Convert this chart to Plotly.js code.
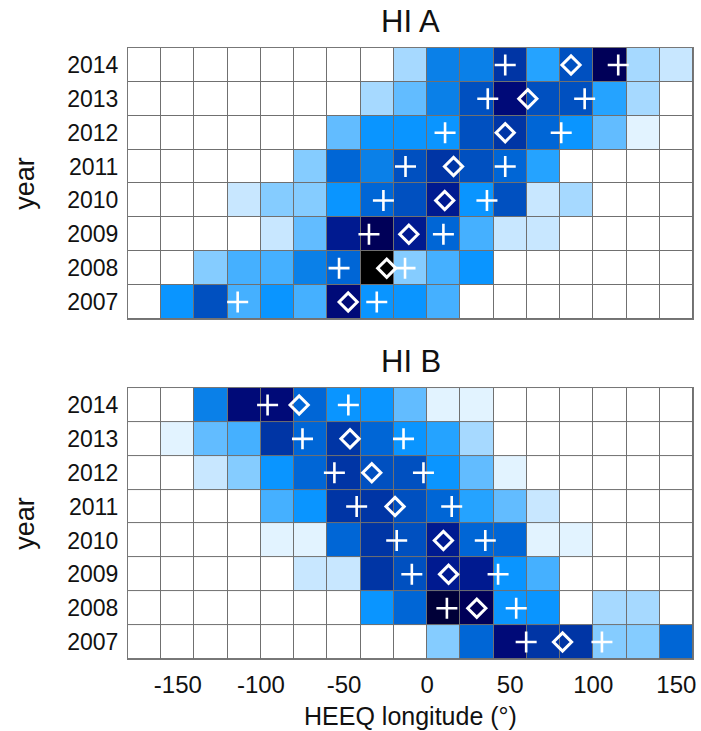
<!DOCTYPE html>
<html>
<head>
<meta charset="utf-8">
<script src="https://cdn.plot.ly/plotly-3.0.1.min.js"></script>
<style>
  html, body { margin: 0; padding: 0; background: #ffffff; }
  #chart { width: 701px; height: 731px; }
</style>
</head>
<body>
<div id="chart"></div>
<script>
// ---- data ----
const binCenters = [-170,-150,-130,-110,-90,-70,-50,-30,-10,10,30,50,70,90,110,130,150];
const years = [2007, 2008, 2009, 2010, 2011, 2012, 2013, 2014];
const yearLabels = ['2007','2008','2009','2010','2011','2012','2013','2014'];
const xTickVals = [-150, -100, -50, 0, 50, 100, 150];
const xTickText = ['-150', '-100', '-50', '0', '50', '100', '150'];

// HI A: binned levels per year (rows 2007..2014, columns = longitude bins)
const hiA_2007 = [0,8,11,6,8,6,14,8,8,6,0,0,0,0,0,0,0];
const hiA_2008 = [0,0,4,6,6,9,10,17,4,6,8,0,0,0,0,0,0];
const hiA_2009 = [0,0,0,0,2,5,13,15,13,10,6,2,2,0,0,0,0];
const hiA_2010 = [0,0,0,2,4,4,8,10,11,13,8,11,2,3,0,0,0];
const hiA_2011 = [0,0,0,0,0,4,10,9,11,12,11,10,7,0,0,0,0];
const hiA_2012 = [0,0,0,0,0,0,5,8,8,8,11,12,10,8,5,1,0];
const hiA_2013 = [0,0,0,0,0,0,0,3,5,9,11,14,11,11,7,3,0];
const hiA_2014 = [0,0,0,0,0,0,0,0,3,9,9,12,7,11,15,3,2];

// HI B
const hiB_2007 = [0,0,0,0,0,0,0,0,0,4,10,14,12,12,4,4,10];
const hiB_2008 = [0,0,0,0,0,0,0,8,10,16,15,8,8,0,3,3,0];
const hiB_2009 = [0,0,0,0,0,2,2,12,11,13,13,8,6,0,0,0,0];
const hiB_2010 = [0,0,0,0,1,1,10,12,11,13,10,10,1,1,0,0,0];
const hiB_2011 = [0,0,0,0,6,8,12,12,11,10,7,5,2,0,0,0,0];
const hiB_2012 = [0,0,2,4,8,10,12,11,11,8,5,1,0,0,0,0,0];
const hiB_2013 = [0,1,5,6,12,10,12,10,8,7,3,0,0,0,0,0,0];
const hiB_2014 = [0,0,9,14,14,10,8,8,5,1,1,0,0,0,0,0,0];

// markers (longitude, per year 2007..2014)
const hiA_plusLow  = [-114, -53, -35, -26.3, -13, 10.8, 36.5, 47];
const hiA_plusHigh = [-30.3, -13.3, 9.8, 36, 47, 80.7, 94.8, 115];
const hiA_diamond  = [-47.5, -24.3, -11, 10.6, 15.9, 47, 60.6, 86.6];

const hiB_plusLow  = [59.6, 11.9, -9.2, -18.3, -42.4, -55.8, -75, -96];
const hiB_plusHigh = [105.2, 53.6, 42.7, 35, 14.8, -2.2, -14.2, -47.4];
const hiB_diamond  = [81.5, 29.9, 12.9, 9.8, -19.3, -33.3, -46.4, -77];

// ---- styling ----
const levelColors = ['#ffffff','#e2f3ff','#c8e7ff','#a6d9ff','#85ccff','#62bcff','#45b0ff','#25a3ff',
  '#0a95ff','#0a80e8','#0066d6','#0050c0','#0035a5','#001a90','#000a78','#000058','#000038','#000000'];
const colorscale = levelColors.map((c, i) => [i / (levelColors.length - 1), c]);
const FONT = '"Liberation Sans", Arial, Helvetica, sans-serif';

const zA = [hiA_2007, hiA_2008, hiA_2009, hiA_2010, hiA_2011, hiA_2012, hiA_2013, hiA_2014];
const zB = [hiB_2007, hiB_2008, hiB_2009, hiB_2010, hiB_2011, hiB_2012, hiB_2013, hiB_2014];

function heat(z, xa, ya) {
  return {
    type: 'heatmap', z: z, x: binCenters, y: years,
    xaxis: xa, yaxis: ya,
    colorscale: colorscale, zmin: 0, zmax: levelColors.length - 1,
    showscale: false, xgap: 1, ygap: 1, hoverinfo: 'skip'
  };
}
function plus(lo, hi, xa, ya) {
  return {
    type: 'scatter', mode: 'markers', xaxis: xa, yaxis: ya,
    x: lo.concat(hi), y: years.concat(years),
    marker: { symbol: 'cross-thin', size: 15, color: '#ffffff', line: { color: '#ffffff', width: 2.6 } },
    hoverinfo: 'skip', showlegend: false, cliponaxis: false
  };
}
function diamond(d, xa, ya) {
  return {
    type: 'scatter', mode: 'markers', xaxis: xa, yaxis: ya,
    x: d, y: years,
    marker: { symbol: 'diamond-open', size: 14, color: '#ffffff', line: { color: '#ffffff', width: 3 } },
    hoverinfo: 'skip', showlegend: false, cliponaxis: false
  };
}

const data = [
  heat(zA, 'x', 'y'), plus(hiA_plusLow, hiA_plusHigh, 'x', 'y'), diamond(hiA_diamond, 'x', 'y'),
  heat(zB, 'x2', 'y2'), plus(hiB_plusLow, hiB_plusHigh, 'x2', 'y2'), diamond(hiB_diamond, 'x2', 'y2')
];

const xBase = {
  range: [-180, 160], showgrid: false, zeroline: false,
  showline: true, mirror: true, linecolor: '#777777', linewidth: 1,
  tickvals: xTickVals, ticktext: xTickText,
  ticks: 'outside', ticklen: 4, tickcolor: 'rgba(0,0,0,0)',
  tickfont: { family: FONT, size: 24, color: '#111111' }, fixedrange: true
};
const yBase = {
  range: [2006.5, 2014.5], showgrid: false, zeroline: false,
  showline: true, mirror: true, linecolor: '#777777', linewidth: 1,
  tickvals: years, ticktext: yearLabels,
  ticks: 'outside', ticklen: 4, tickcolor: 'rgba(0,0,0,0)',
  tickfont: { family: FONT, size: 23, color: '#111111' }, fixedrange: true,
  title: { text: 'year', font: { family: FONT, size: 27, color: '#111111' }, standoff: 24 }
};

const layout = {
  width: 701, height: 731,
  margin: { l: 128, r: 8, t: 48, b: 72 },
  paper_bgcolor: '#ffffff', plot_bgcolor: '#707070',
  showlegend: false,
  xaxis: Object.assign({}, xBase, { anchor: 'y', domain: [0, 1], showticklabels: false }),
  yaxis: Object.assign({}, yBase, { anchor: 'x', domain: [0.5565, 1] }),
  xaxis2: Object.assign({}, xBase, { anchor: 'y2', domain: [0, 1],
    title: { text: 'HEEQ longitude (°)', font: { family: FONT, size: 25, color: '#111111' }, standoff: 10 } }),
  yaxis2: Object.assign({}, yBase, { anchor: 'x2', domain: [0, 0.4435] }),
  annotations: [
    { text: 'HI A', xref: 'paper', yref: 'paper', x: 0.5, y: 1 + 27 / 611, xanchor: 'center', yanchor: 'middle',
      showarrow: false, font: { family: FONT, size: 31, color: '#111111' } },
    { text: 'HI B', xref: 'paper', yref: 'paper', x: 0.5, y: 0.4435 + 27 / 611, xanchor: 'center', yanchor: 'middle',
      showarrow: false, font: { family: FONT, size: 31, color: '#111111' } }
  ]
};

Plotly.newPlot('chart', data, layout, { displayModeBar: false, staticPlot: true });
</script>
</body>
</html>
